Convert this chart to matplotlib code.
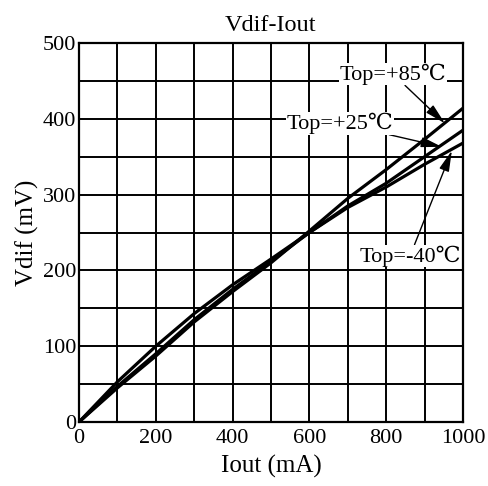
import matplotlib
matplotlib.use("Agg")
import matplotlib.pyplot as plt
import numpy as np

iout = [0, 100, 200, 300, 400, 500, 600, 700, 800, 900, 1000]
v_m40 = [0, 53, 100, 143, 181, 215, 250, 283, 310, 340, 368]
v_25 = [0, 47, 90, 135, 175, 212, 250, 285, 315, 350, 385]
v_85 = [0, 45, 87, 132, 172, 210, 252, 295, 333, 373, 414]

labels = ["Top=+85\u2103", "Top=+25\u2103", "Top=-40\u2103"]
xticks = [0, 200, 400, 600, 800, 1000]
yticks = [0, 100, 200, 300, 400, 500]

fam = ['Liberation Serif', 'DejaVu Serif', 'Noto Sans CJK SC']
plt.rcParams['font.family'] = fam

fig = plt.figure(figsize=(4.89, 4.86), dpi=100)
ax = fig.add_axes([79/489, 1-422/486, (463-79)/489, (422-43)/486])

for v in (v_m40, v_25, v_85):
    ax.plot(iout, v, color='black', lw=2.3, zorder=3)

ax.set_xlim(0, 1000)
ax.set_ylim(0, 500)
ax.set_xticks(xticks)
ax.set_yticks(yticks)
ax.set_xticks(np.arange(0, 1001, 100), minor=True)
ax.set_yticks(np.arange(0, 501, 50), minor=True)
ax.grid(True, which='both', color='black', lw=1.4, zorder=1)
ax.tick_params(which='both', length=0, labelsize=16)
ax.tick_params(axis='x', pad=5)
ax.tick_params(axis='y', pad=2)
for s in ax.spines.values():
    s.set_linewidth(1.6)

ax.set_title("Vdif-Iout", fontsize=17.5, pad=9)
ax.set_xlabel("Iout (mA)", fontsize=18, labelpad=5)
ax.set_ylabel("Vdif (mV)", fontsize=18, labelpad=3)

bbox = dict(facecolor='white', edgecolor='none', pad=0.5)
ap = dict(arrowstyle='-|>,head_length=0.9,head_width=0.22', color='black', lw=1.0,
          mutation_scale=14, shrinkA=0, shrinkB=0)
ax.annotate(labels[0], xy=(953, 394), xytext=(818, 459), fontsize=16,
            ha='center', va='center', bbox=bbox, zorder=5, arrowprops=ap)
ax.annotate(labels[1], xy=(945, 363), xytext=(680, 394), fontsize=16,
            ha='center', va='center', bbox=bbox, zorder=5, arrowprops=ap)
ax.annotate(labels[2], xy=(971, 358), xytext=(862, 219), fontsize=16,
            ha='center', va='center', bbox=bbox, zorder=5, arrowprops=ap)

fig.savefig("out.png", dpi=100)
